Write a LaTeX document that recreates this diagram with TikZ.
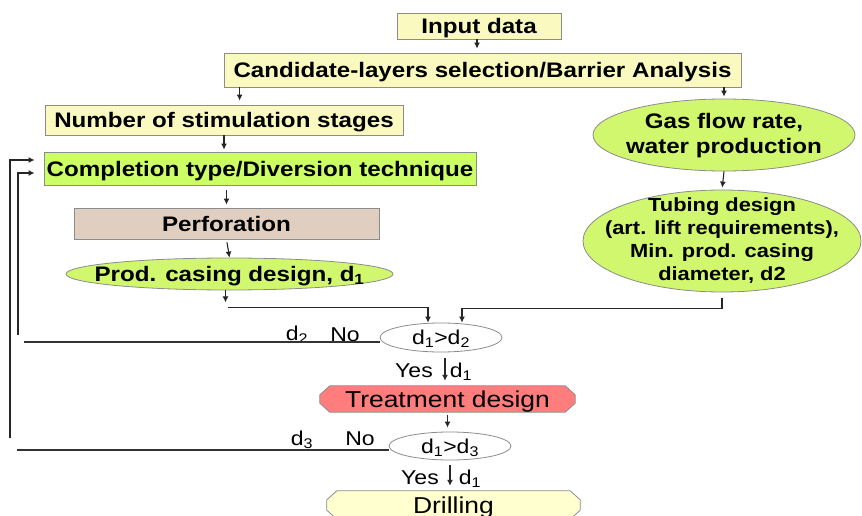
\documentclass[tikz,border=0pt]{standalone}
\usepackage{fontspec}
\setmainfont{Liberation Sans}[FakeStretch=1.15]
\usetikzlibrary{arrows.meta,shapes.geometric,backgrounds}
\definecolor{paleyel}{RGB}{250,250,192}
\definecolor{limegr}{RGB}{204,255,102}
\definecolor{ellgr}{RGB}{208,247,110}
\definecolor{percbrown}{RGB}{224,207,192}
\definecolor{treatred}{RGB}{255,125,125}
\definecolor{drillyel}{RGB}{255,255,208}
\definecolor{edgegray}{RGB}{140,140,140}
\begin{document}
\begin{tikzpicture}[x=1pt,y=-1pt,
  every node/.style={inner sep=0pt},
  bx/.style={draw=edgegray,line width=0.8pt,font=\fontsize{21}{25}\selectfont\bfseries,text height=15pt,text depth=0pt},
  el/.style={ellipse,draw=edgegray,line width=0.8pt,fill=ellgr},
  bt/.style={font=\fontsize{21}{25}\selectfont\bfseries,align=center},
  tt/.style={font=\fontsize{19}{23}\selectfont\bfseries,align=center},
  lab/.style={font=\fontsize{20}{24}\selectfont,text height=14pt,text depth=0pt},
  dec/.style={ellipse,draw=edgegray,line width=0.8pt,fill=white,font=\fontsize{20}{24}\selectfont,text height=14pt,text depth=0pt},
  cham/.style={font=\fontsize{23}{27}\selectfont,text height=16.5pt,text depth=0pt},
  chamline/.style={draw=edgegray,line width=0.8pt},
  arr/.style={-{Latex[length=6pt,width=6pt]},line width=1.1pt,draw=black!85},
  ln/.style={line width=1.4pt,draw=black!80}]
\useasboundingbox (0,0) rectangle (862,516);

% boxes
\node[bx,fill=paleyel,minimum width=164,minimum height=26] (input) at (479,26) {Input data};
\node[bx,fill=paleyel,minimum width=517,minimum height=34] (cand) at (482.5,70) {Candidate-layers selection/Barrier Analysis};
\node[bx,fill=paleyel,minimum width=358,minimum height=30] (num) at (224,120) {Number of stimulation stages};
\node[bx,fill=limegr,minimum width=432,minimum height=33] (comp) at (260,168.5) {Completion type/Diversion technique};
\node[bx,fill=percbrown,minimum width=305,minimum height=31] (perf) at (226.5,223.5) {Perforation};

% ellipses
\node[el,minimum width=327,minimum height=32] (prod) at (229.5,274) {};
\node[bt,text height=15pt,text depth=0pt] (prod-t) at (prod.center) {Prod. casing design, d\textsubscript{1}};
\node[el,minimum width=262,minimum height=72] (gas) at (724,135) {};
\node[bt] (gas-t) at (724,136) {Gas flow rate,\\water production};
\node[el,minimum width=278,minimum height=102] (tub) at (722,241) {};
\node[tt] (tub-t) at (tub.center) {Tubing design\\(art. lift requirements),\\Min. prod. casing\\diameter, d2};

% decisions and process boxes
\node[dec,minimum width=122,minimum height=29] (c1) at (441,337.5) {d\textsubscript{1}>d\textsubscript{2}};
\node[cham,minimum width=255,minimum height=26] (treat) at (447.5,399) {Treatment design};
\node[cham,minimum width=253,minimum height=28] (drill) at (453.5,505) {Drilling};
\node[dec,minimum width=122,minimum height=28] (c2) at (450,446) {d\textsubscript{1}>d\textsubscript{3}};
\begin{scope}[on background layer]
\draw[chamline,fill=treatred] ([shift={(10,0)}]treat.north west) -- ([shift={(-10,0)}]treat.north east)
  -- ([shift={(0,9)}]treat.north east) -- ([shift={(0,-9)}]treat.south east)
  -- ([shift={(-10,0)}]treat.south east) -- ([shift={(10,0)}]treat.south west)
  -- ([shift={(0,-9)}]treat.south west) -- ([shift={(0,9)}]treat.north west) -- cycle;
\draw[chamline,fill=drillyel] ([shift={(10,0)}]drill.north west) -- ([shift={(-10,0)}]drill.north east)
  -- ([shift={(0,9)}]drill.north east) -- ([shift={(0,-9)}]drill.south east)
  -- ([shift={(-10,0)}]drill.south east) -- ([shift={(10,0)}]drill.south west)
  -- ([shift={(0,-9)}]drill.south west) -- ([shift={(0,9)}]drill.north west) -- cycle;
\end{scope}

% labels
\node[lab] (d2l) at (297,333) {d\textsubscript{2}};
\node[lab] (no1) at (345,334) {No};
\node[lab] (d3l) at (302,438) {d\textsubscript{3}};
\node[lab] (no2) at (360,438) {No};
\node[lab] (yes1) at (414,370) {Yes};
\node[lab] (d1a) at (461,370) {d\textsubscript{1}};
\node[lab] (yes2) at (420,477) {Yes};
\node[lab] (d1b) at (470,477) {d\textsubscript{1}};

% connectors
\draw[arr,shorten >=4pt] ([xshift=-2pt]input.south) -- ([xshift=-2pt]input.south |- cand.north);
\draw[arr,shorten >=4pt] ([xshift=16pt]cand.south west) -- ([xshift=16pt]cand.south west |- num.north);
\draw[arr,shorten >=2pt] (gas.north |- cand.south) -- (gas.north);
\draw[arr,shorten >=2pt] (num.south) -- (num.south |- comp.north);
\draw[arr,shorten <=5pt,shorten >=3pt] (perf.north |- comp.south) -- (perf.north);
\draw[arr,shorten <=3pt] (perf.south) -- (prod.north);
\draw[arr,shorten >=2pt] (gas.south) -- (tub.north);
\draw[arr] ([xshift=-4pt]prod.south) -- ++(0,12) coordinate (p1);
\draw[arr] ([xshift=2pt,yshift=-5pt]p1) -| ([xshift=-13pt]c1.north);
\draw[arr] ([yshift=-6pt]tub.south) -- ++(0,10) -| ([xshift=21pt]c1.north);
\draw[arr,shorten <=6pt,shorten >=5pt] ([xshift=4pt]c1.south) -- ([xshift=4pt]c1.south |- treat.north);
\draw[arr,shorten <=3pt,shorten >=4pt] (treat.south) -- (treat.south |- c2.north);
\draw[arr,shorten <=5pt,shorten >=5pt] (c2.south) -- (c2.south |- drill.north);

% feedback loops
\coordinate (n1) at (24,342);
\draw[ln] (c1.west |- n1) -- (n1);
\coordinate (f1) at (18,335);
\draw[arr,line width=1.4pt] (f1) |- ([xshift=-9pt,yshift=-4.5pt]comp.west);
\coordinate (n2) at (17,450);
\draw[ln] (c2.west |- n2) -- (n2);
\coordinate (f2) at (10,438);
\draw[arr,line width=1.4pt] (f2) |- ([xshift=-9pt,yshift=8.5pt]comp.west);
\end{tikzpicture}
\end{document}
